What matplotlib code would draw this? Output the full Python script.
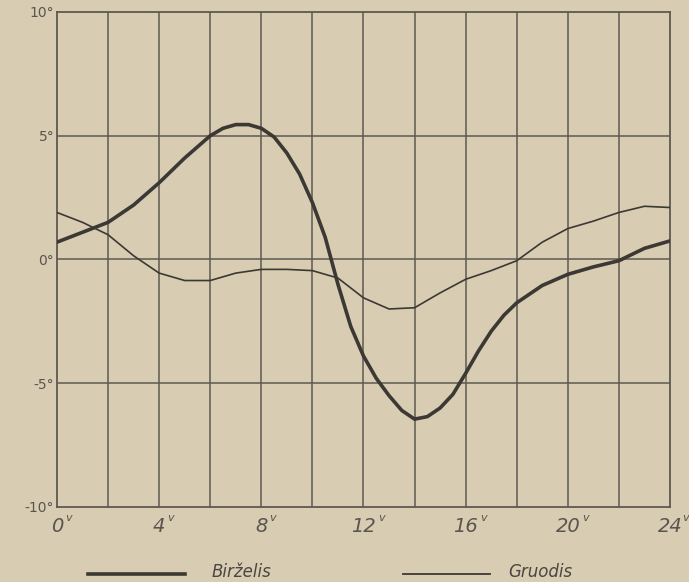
import matplotlib.pyplot as plt
from matplotlib.lines import Line2D

# valandos ir temperatūros nuokrypiai
hours_jun = [0, 1, 2, 3, 4, 5, 6, 6.5, 7, 7.5, 8, 8.5, 9, 9.5, 10, 10.5, 11,
             11.5, 12, 12.5, 13, 13.5, 14, 14.5, 15, 15.5, 16, 16.5, 17, 17.5,
             18, 19, 20, 21, 22, 23, 24]
temp_jun = [0.7, 1.1, 1.5, 2.2, 3.1, 4.1, 5.0, 5.3, 5.45, 5.45, 5.3, 4.95, 4.3,
            3.45, 2.3, 0.9, -1.0, -2.7, -3.9, -4.8, -5.5, -6.1, -6.45, -6.35,
            -6.0, -5.45, -4.6, -3.7, -2.9, -2.25, -1.75, -1.05, -0.6, -0.3,
            -0.05, 0.45, 0.75]

hours_dec = [0, 1, 2, 3, 4, 5, 6, 7, 8, 9, 10, 11, 12, 13, 14, 15, 16, 17,
             18, 19, 20, 21, 22, 23, 24]
temp_dec = [1.9, 1.5, 1.0, 0.15, -0.55, -0.85, -0.85, -0.55, -0.4, -0.4, -0.45,
            -0.75, -1.55, -2.0, -1.95, -1.35, -0.8, -0.45, -0.05, 0.7, 1.25,
            1.55, 1.9, 2.15, 2.1]

x_ticks = [0, 4, 8, 12, 16, 20, 24]
y_ticks = [-10, -5, 0, 5, 10]
y_labels = ['-10°', '-5°', '0°', '5°', '10°']

paper = '#d8ccb3'
ink = '#3c3833'
grid_c = '#5e5850'
label_c = '#5a554e'

fig = plt.figure(figsize=(6.89, 5.82), dpi=100, facecolor=paper)
ax = fig.add_axes([0.0827, 0.1289, 0.8897, 0.8505])
ax.set_facecolor(paper)

# tinklelis
for h in range(2, 24, 2):
    ax.axvline(h, color=grid_c, lw=1.1, zorder=1)
for t in [-5, 0, 5]:
    ax.axhline(t, color=grid_c, lw=1.1, zorder=1)

ax.plot(hours_jun, temp_jun, color=ink, lw=2.6, zorder=3,
        solid_joinstyle='round', solid_capstyle='round')
ax.plot(hours_dec, temp_dec, color=ink, lw=1.2, zorder=3,
        solid_joinstyle='round')

ax.set_xlim(0, 24)
ax.set_ylim(-10, 10)
for s in ax.spines.values():
    s.set_color(grid_c)
    s.set_linewidth(1.3)

ax.set_yticks(y_ticks)
ax.set_yticklabels(y_labels, fontsize=10, color=label_c)
ax.set_xticks(x_ticks)
ax.set_xticklabels([str(h) for h in x_ticks], fontsize=14, style='italic',
                   color=label_c)
ax.tick_params(length=0, pad=2)
ax.tick_params(axis='x', pad=7)

# valandų žymė "v" prie kiekvienos x etiketės
xform = ax.get_xaxis_transform()
for h in x_ticks:
    off = 6 if h < 10 else 10.5
    if h == 24:
        off = 8.5
    ax.annotate('v', xy=(h, 0), xycoords=xform, xytext=(off, -8),
                textcoords='offset points', fontsize=8, style='italic',
                color=label_c, ha='left', va='center', annotation_clip=False)

# legenda apačioje
fig.add_artist(Line2D([88 / 689, 185 / 689], [1 - 574 / 582] * 2,
                      color=ink, lw=2.6))
fig.text(212 / 689, 1 - 572 / 582, 'Birželis', fontsize=12, style='italic',
         color='#4a4640', va='center')
fig.add_artist(Line2D([403 / 689, 490 / 689], [1 - 574 / 582] * 2,
                      color=ink, lw=1.3))
fig.text(508 / 689, 1 - 572 / 582, 'Gruodis', fontsize=12, style='italic',
         color='#4a4640', va='center')

plt.savefig('out.png', dpi=100, facecolor=paper)
